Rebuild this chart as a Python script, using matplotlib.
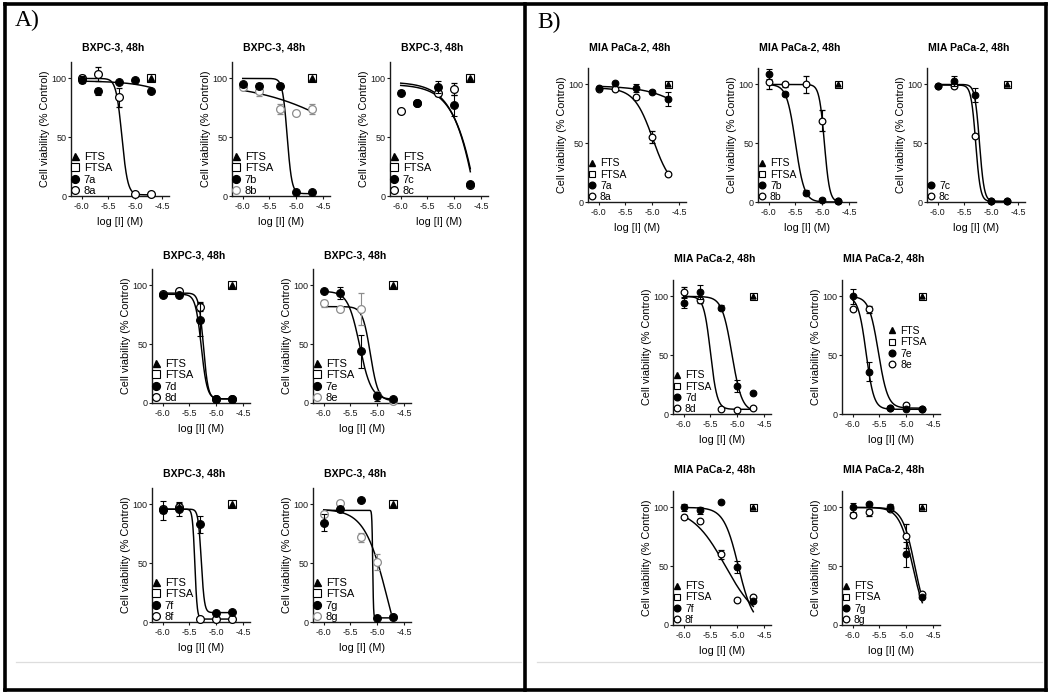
import numpy as np
import matplotlib
matplotlib.use('Agg')
import matplotlib.pyplot as plt
from matplotlib.lines import Line2D

plt.rcParams['font.family'] = ['Liberation Sans', 'DejaVu Sans']
plt.rcParams['axes.unicode_minus'] = False

W, H = 1050, 693

# concentrations (log M) and axis ticks
log_conc = [-6.0, -5.7, -5.3, -5.0, -4.7]
x_ticks = [-6.0, -5.5, -5.0, -4.5]
x_ticklabels = ['-6.0', '-5.5', '-5.0', '-4.5']
y_ticks = [0, 50, 100]
ref_x = -4.7      # FTS / FTSA control point
ref_y = 100

# ---- BXPC-3 (panel A): values, SD, fit (top, bottom, logIC50, hill)
bx_7a = [99, 89, 97, 99, 89]
bx_7a_sd = [3, 3, 1, 1, 1]
bx_7a_fit = [98, 0, -3.5, 1.0]
bx_8a = [100, 104, 84, 2, 2]
bx_8a_sd = [3, 6, 8, 1, 1]
bx_8a_fit = [100, 1, -5.25, 8]

bx_7b = [95, 94, 94, 3, 3]
bx_7b_sd = [2, 2, 2, 1, 1]
bx_7b_fit = [100, 2, -5.17, 10]
bx_8b = [93, 89, 74, 71, 74]
bx_8b_sd = [2, 4, 4, 1, 4]
bx_8b_fit = [97, 0, -3.8, 0.5]

bx_7c = [88, 79, 93, 77, 10]
bx_7c_sd = [2, 2, 5, 9, 1]
bx_7c_fit = [97, -300, -4.29, 1.52]
bx_8c = [72, 79, 88, 91, 9]
bx_8c_sd = [1, 2, 3, 5, 1]
bx_8c_fit = [95, -300, -4.27, 1.52]

bx_7d = [92, 92, 71, 3.5, 3.5]
bx_7d_sd = [1, 1, 14, 1, 1]
bx_7d_fit = [92.5, 3.5, -5.28, 8]
bx_8d = [93, 95, 82, 3.5, 3.5]
bx_8d_sd = [1, 1, 4, 1, 1]
bx_8d_fit = [93.5, 3.5, -5.24, 10]

bx_7e = [95, 93.5, 44, 5.7, 3.7]
bx_7e_sd = [1, 5, 14, 4, 1]
bx_7e_fit = [95, 3, -5.33, 4]
bx_8e = [85, 80, 80, 6.5, 1.5]
bx_8e_sd = [3, 2, 14, 1, 1]
bx_8e_fit = [82, 2, -5.13, 6]

bx_7f = [95, 96, 83, 7.6, 8.5]
bx_7f_sd = [8, 6, 7, 1, 1]
bx_7f_fit = [96, 8, -5.28, 15]
bx_8f = [96, 98, 2.5, 2.5, 2.5]
bx_8f_sd = [3, 3, 1, 1, 1]
bx_8f_fit = [96, 2.5, -5.40, 20]

bx_7g = [84.5, 96, 104, 3.4, 4]
bx_7g_sd = [7, 2, 1, 1, 1]
bx_7g_fit = [95, 3.5, -5.085, 60]
bx_8g = [92, 101, 72, 51, 4]
bx_8g_sd = [2, 2, 4, 7, 1]
bx_8g_fit = [96, -60, -4.8, 2]

# ---- MIA PaCa-2 (panel B)
mia_7a = [97, 101, 97, 94, 88]
mia_7a_sd = [1, 1, 3, 1, 6]
mia_7a_fit = [99, 0, -3.8, 1]
mia_8a = [96, 96, 89, 55, 24]
mia_8a_sd = [1, 1, 1, 5, 1]
mia_8a_fit = [97, 10, -4.988, 2.49]

mia_7b = [109, 92, 8, 2, 0.5]
mia_7b_sd = [4, 2, 2, 1, 1]
mia_7b_fit = [100, 0, -5.5, 5.3]
mia_8b = [102, 100, 100, 69, 0.5]
mia_8b_sd = [6, 2, 7, 9, 1]
mia_8b_fit = [100, 0, -4.96, 9]

mia_7c = [98.5, 103, 91, 0.5, 0.5]
mia_7c_sd = [1, 4, 6, 1, 1]
mia_7c_fit = [100, 0.5, -5.22, 10]
mia_8c = [99, 99, 56, 0.5, 0.5]
mia_8c_sd = [1, 2, 1, 1, 1]
mia_8c_fit = [99.5, 0.5, -5.29, 10]

mia_7d = [94.4, 104, 90.4, 24, 17.7]
mia_7d_sd = [4, 6, 2, 5, 1]
mia_7d_fit = [100, 2, -5.10, 4.7]
mia_8d = [103.7, 96.6, 4.2, 3.7, 5]
mia_8d_sd = [4, 2, 1, 1, 1]
mia_8d_fit = [100, 4, -5.5, 7]

mia_7e = [100, 36, 5, 4.2, 4.2]
mia_7e_sd = [6, 8, 1, 1, 1]
mia_7e_fit = [100, 4, -5.75, 6]
mia_8e = [89.6, 89, 5, 7.9, 4]
mia_8e_sd = [1, 3, 1, 1, 1]
mia_8e_fit = [100, 5, -5.52, 5]

mia_7f = [100, 97.7, 104.8, 49.6, 20.4]
mia_7f_sd = [3, 3, 1, 5, 1]
mia_7f_fit = [100, 0, -4.98, 3.2]
mia_8f = [92, 88.4, 60, 21, 24]
mia_8f_sd = [1, 1, 4, 1, 1]
mia_8f_fit = [100, 0, -5.22, 1.4]

mia_7g = [100, 103, 100, 60, 24]
mia_7g_sd = [4, 1, 3, 11, 1]
mia_7g_fit = [100, 0, -4.88, 3.5]
mia_8g = [93.5, 96, 99, 75.6, 26]
mia_8g_sd = [2, 3, 1, 10, 1]
mia_8g_fit = [100, 0, -4.84, 3.8]


def logistic(x, top, bottom, logic50, hill):
    return bottom + (top - bottom) / (1 + 10 ** ((x - logic50) * hill))


AX_W, AX_H = 98, 134
fig = plt.figure(figsize=(W / 100, H / 100), dpi=100)
fig.patch.set_facecolor('white')


def draw_panel(left, zero, title, title_dy, s7, s8, big, grey8=False,
               legend_at=(0.0, 0.0), with_controls_in_legend=True):
    ax = fig.add_axes([left / W, 1 - zero / H, AX_W / W, AX_H / H])
    ms = 5.6 if big else 4.8
    edge8 = '#8c8c8c' if grey8 else 'k'
    xs = np.linspace(-6.0, -4.7, 400)

    # fitted curves
    for lab, vals, sd, fit in (s8, s7):
        ax.plot(xs, logistic(xs, *fit), color='k', lw=1.05, zorder=2)

    # control point: FTSA square with FTS triangle
    ax.plot(ref_x, ref_y, 's', ms=ms * 1.05, mfc='white', mec='k', mew=0.8,
            zorder=3, clip_on=False)
    ax.plot(ref_x, ref_y, '^', ms=ms * 0.75, color='k', zorder=4,
            clip_on=False)

    lab8, v8, sd8, _ = s8
    ax.errorbar(log_conc, v8, yerr=sd8, fmt='o', ms=ms, mfc='white',
                mec=edge8, mew=0.9, ecolor=edge8, elinewidth=0.8,
                capsize=2.2, capthick=0.8, zorder=3, clip_on=False)
    lab7, v7, sd7, _ = s7
    ax.errorbar(log_conc, v7, yerr=sd7, fmt='o', ms=ms, mfc='k', mec='k',
                mew=0.8, ecolor='k', elinewidth=0.8, capsize=2.2,
                capthick=0.8, zorder=4, clip_on=False)

    ax.set_xlim(-6.2, -4.37)
    ax.set_ylim(0, 114)
    ax.set_xticks(x_ticks)
    ax.set_xticklabels(x_ticklabels)
    ax.set_yticks(y_ticks)
    for s in ('top', 'right'):
        ax.spines[s].set_visible(False)
    for s in ('left', 'bottom'):
        ax.spines[s].set_linewidth(1.0)
        ax.spines[s].set_color('#1a1a1a')
    ax.tick_params(direction='out', length=2.5, width=0.8, labelsize=6.5,
                   colors='#1a1a1a')
    ax.tick_params(axis='y', pad=0.8)
    ax.tick_params(axis='x', pad=1.6)

    ax.set_xlabel('log [I] (M)', fontsize=7.8, va='center')
    ax.xaxis.set_label_coords(0.5, -26 / AX_H)
    ax.set_ylabel('Cell viability (% Control)', fontsize=7.8, va='center')
    ax.yaxis.set_label_coords(-26 / AX_W, 0.5)
    ax.text(0.5 - 7 / AX_W, 1 + title_dy / AX_H, title, transform=ax.transAxes,
            ha='center', va='center', fontsize=7.6, fontweight='bold')

    h_fts = Line2D([], [], ls='none', marker='^', ms=ms * 0.9, color='k')
    h_ftsa = Line2D([], [], ls='none', marker='s', ms=ms, mfc='white',
                    mec='k', mew=0.8)
    h7 = Line2D([], [], ls='none', marker='o', ms=ms, mfc='k', mec='k')
    h8 = Line2D([], [], ls='none', marker='o', ms=ms, mfc='white',
                mec=edge8, mew=0.9)
    if with_controls_in_legend:
        handles = [h_fts, h_ftsa, h7, h8]
        labels = ['FTS', 'FTSA', lab7, lab8]
    else:
        handles = [h7, h8]
        labels = [lab7, lab8]
    ax.legend(handles, labels, loc='lower left', bbox_to_anchor=legend_at,
              frameon=False, fontsize=8 if big else 7.5, handlelength=0.8,
              handletextpad=0.35, labelspacing=0.12, borderpad=0,
              borderaxespad=0)
    return ax


A_title, B_title = 'BXPC-3, 48h', 'MIA PaCa-2, 48h'

draw_panel(71, 196, A_title, 14, ('7a', bx_7a, bx_7a_sd, bx_7a_fit),
           ('8a', bx_8a, bx_8a_sd, bx_8a_fit), True)
draw_panel(232, 196, A_title, 14, ('7b', bx_7b, bx_7b_sd, bx_7b_fit),
           ('8b', bx_8b, bx_8b_sd, bx_8b_fit), True, grey8=True)
draw_panel(390, 196, A_title, 14, ('7c', bx_7c, bx_7c_sd, bx_7c_fit),
           ('8c', bx_8c, bx_8c_sd, bx_8c_fit), True)
draw_panel(152, 403, A_title, 14, ('7d', bx_7d, bx_7d_sd, bx_7d_fit),
           ('8d', bx_8d, bx_8d_sd, bx_8d_fit), True)
draw_panel(313, 403, A_title, 14, ('7e', bx_7e, bx_7e_sd, bx_7e_fit),
           ('8e', bx_8e, bx_8e_sd, bx_8e_fit), True, grey8=True)
draw_panel(152, 622, A_title, 14, ('7f', bx_7f, bx_7f_sd, bx_7f_fit),
           ('8f', bx_8f, bx_8f_sd, bx_8f_fit), True)
draw_panel(313, 622, A_title, 14, ('7g', bx_7g, bx_7g_sd, bx_7g_fit),
           ('8g', bx_8g, bx_8g_sd, bx_8g_fit), True, grey8=True)

draw_panel(588, 202, B_title, 21, ('7a', mia_7a, mia_7a_sd, mia_7a_fit),
           ('8a', mia_8a, mia_8a_sd, mia_8a_fit), False)
draw_panel(758, 202, B_title, 21, ('7b', mia_7b, mia_7b_sd, mia_7b_fit),
           ('8b', mia_8b, mia_8b_sd, mia_8b_fit), False)
draw_panel(927, 202, B_title, 21, ('7c', mia_7c, mia_7c_sd, mia_7c_fit),
           ('8c', mia_8c, mia_8c_sd, mia_8c_fit), False,
           with_controls_in_legend=False)
draw_panel(673, 414, B_title, 21, ('7d', mia_7d, mia_7d_sd, mia_7d_fit),
           ('8d', mia_8d, mia_8d_sd, mia_8d_fit), False)
draw_panel(842, 414, B_title, 21, ('7e', mia_7e, mia_7e_sd, mia_7e_fit),
           ('8e', mia_8e, mia_8e_sd, mia_8e_fit), False,
           legend_at=(0.47, 0.33))
draw_panel(673, 625, B_title, 21, ('7f', mia_7f, mia_7f_sd, mia_7f_fit),
           ('8f', mia_8f, mia_8f_sd, mia_8f_fit), False)
draw_panel(842, 625, B_title, 21, ('7g', mia_7g, mia_7g_sd, mia_7g_fit),
           ('8g', mia_8g, mia_8g_sd, mia_8g_fit), False)


# frame, divider and thin grey rules (pixel coords, y from top)
def px_line(x0, y0, x1, y1, **kw):
    fig.add_artist(Line2D([x0 / W, x1 / W], [1 - y0 / H, 1 - y1 / H],
                          transform=fig.transFigure, **kw))


frame = dict(color='k', lw=2.6, solid_capstyle='projecting')
px_line(4.5, 3.5, 1045.5, 3.5, **frame)
px_line(4.5, 689.5, 1045.5, 689.5, **frame)
px_line(4.5, 3.5, 4.5, 689.5, **frame)
px_line(1045.5, 3.5, 1045.5, 689.5, **frame)
px_line(525, 3.5, 525, 689.5, **frame)
px_line(16, 662, 521, 662, color='#dddddd', lw=0.9)
px_line(537, 662, 1042, 662, color='#dddddd', lw=0.9)

fig.text(15 / W, 1 - 20 / H, 'A)', fontsize=17, family='Liberation Serif',
         ha='left', va='center')
fig.text(537 / W, 1 - 22 / H, 'B)', fontsize=17, family='Liberation Serif',
         ha='left', va='center')

fig.savefig('out.png', dpi=100)
